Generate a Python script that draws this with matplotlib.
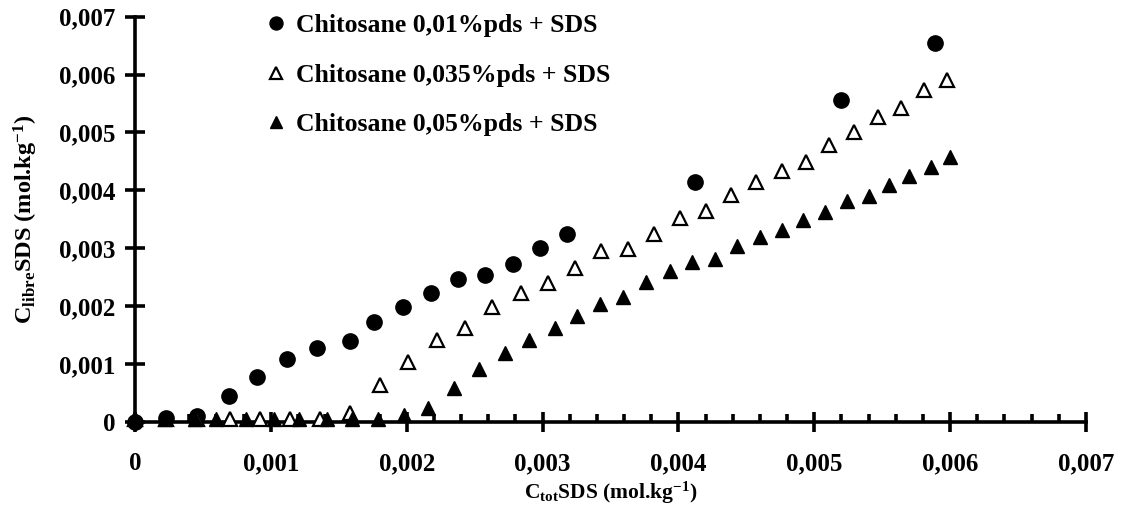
import matplotlib
matplotlib.use("Agg")
import matplotlib.pyplot as plt
from matplotlib.ticker import MultipleLocator, FuncFormatter

plt.rcParams['font.family'] = ['Liberation Serif', 'DejaVu Serif']
plt.rcParams['font.weight'] = 'bold'
plt.rcParams['mathtext.fontset'] = 'custom'
plt.rcParams['mathtext.rm'] = 'Liberation Serif:bold'
plt.rcParams['mathtext.bf'] = 'Liberation Serif:bold'
plt.rcParams['mathtext.it'] = 'Liberation Serif:bold'

# Chitosane 0,01%pds + SDS (filled circles)
c1_x = [0, 0.00023, 0.00046, 0.00069, 0.00090, 0.00112, 0.00134, 0.00158, 0.00176, 0.00197,
        0.00218, 0.00238, 0.00258, 0.00278, 0.00298, 0.00318, 0.00412, 0.00520, 0.00589]
c1_y = [0, 0.00006, 0.00009, 0.00044, 0.00078, 0.00108, 0.00127, 0.00139, 0.00172, 0.00199,
        0.00222, 0.00246, 0.00253, 0.00272, 0.00300, 0.00325, 0.00415, 0.00556, 0.00655]

# Chitosane 0,035%pds + SDS (open triangles)
c2_x = [0, 0.00023, 0.00046, 0.00070, 0.00092, 0.00114, 0.00136, 0.00158, 0.00180, 0.00201,
        0.00222, 0.00243, 0.00263, 0.00284, 0.00304, 0.00324, 0.00343, 0.00363, 0.00382, 0.00401,
        0.00420, 0.00439, 0.00457, 0.00476, 0.00494, 0.00511, 0.00529, 0.00547, 0.00564, 0.00581,
        0.00598]
c2_y = [0.00005, 0.00005, 0.00005, 0.00005, 0.00005, 0.00005, 0.00005, 0.00015, 0.00063, 0.00104,
        0.00142, 0.00162, 0.00198, 0.00222, 0.00239, 0.00265, 0.00295, 0.00299, 0.00325, 0.00352,
        0.00365, 0.00392, 0.00415, 0.00433, 0.00448, 0.00478, 0.00500, 0.00527, 0.00543, 0.00573,
        0.00591]

# Chitosane 0,05%pds + SDS (filled triangles)
c3_x = [0, 0.00022, 0.00044, 0.00060, 0.00082, 0.00102, 0.00121, 0.00141, 0.00160, 0.00179,
        0.00198, 0.00216, 0.00235, 0.00253, 0.00272, 0.00290, 0.00309, 0.00325, 0.00342, 0.00359,
        0.00376, 0.00394, 0.00410, 0.00427, 0.00443, 0.00460, 0.00476, 0.00492, 0.00508, 0.00524,
        0.00540, 0.00555, 0.00570, 0.00586, 0.00600]
c3_y = [0.00004, 0.00004, 0.00004, 0.00004, 0.00004, 0.00004, 0.00004, 0.00004, 0.00004, 0.00004,
        0.00012, 0.00023, 0.00058, 0.00091, 0.00118, 0.00141, 0.00162, 0.00183, 0.00204, 0.00216,
        0.00242, 0.00260, 0.00276, 0.00282, 0.00303, 0.00320, 0.00331, 0.00348, 0.00363, 0.00382,
        0.00390, 0.00409, 0.00424, 0.00440, 0.00457]

labels = ["Chitosane 0,01%pds + SDS", "Chitosane 0,035%pds + SDS", "Chitosane 0,05%pds + SDS"]

fig = plt.figure(figsize=(11.22, 5.12), dpi=100)
ax = fig.add_axes([0.1203, 0.1764, 0.8476, 0.791])

kw = dict(linestyle='none', clip_on=False, zorder=5)
ax.plot(c1_x, c1_y, marker='o', ms=11, mfc='black', mec='black', label=labels[0], **kw)
ax.plot(c2_x, c2_y, marker='^', ms=10.5, mfc='white', mec='black', mew=1.6, label=labels[1], **kw)
ax.plot(c3_x, c3_y, marker='^', ms=10.5, mfc='black', mec='black', label=labels[2], **kw)

ax.set_xlim(0, 0.007)
ax.set_ylim(0, 0.007)

for s in ['top', 'right']:
    ax.spines[s].set_visible(False)
for s in ['left', 'bottom']:
    ax.spines[s].set_linewidth(2.6)

ax.xaxis.set_major_locator(MultipleLocator(0.001))
ax.xaxis.set_minor_locator(MultipleLocator(0.0002))
ax.yaxis.set_major_locator(MultipleLocator(0.001))

def fmt(v, pos):
    if abs(v) < 1e-12:
        return "0"
    return ("%.3f" % v).replace('.', ',')

ax.xaxis.set_major_formatter(FuncFormatter(fmt))
ax.yaxis.set_major_formatter(FuncFormatter(fmt))

ax.tick_params(axis='both', which='major', direction='inout', length=14, width=2.6,
               labelsize=18, pad=3)
ax.tick_params(axis='x', which='major', pad=15)
ax.tick_params(axis='x', which='minor', direction='in', length=6, width=2.6)
ax.tick_params(axis='y', which='major', pad=7)
for lab in ax.get_xticklabels() + ax.get_yticklabels():
    lab.set_fontweight('bold')

ax.set_xlabel(r"C$_{\mathrm{tot}}$SDS (mol.kg$^{\mathrm{-1}}$)", fontsize=15.5, fontweight='bold', labelpad=3)
ax.set_ylabel(r"C$_{\mathrm{libre}}$SDS (mol.kg$^{\mathrm{-1}}$)", fontsize=17.5, fontweight='bold', labelpad=14)

leg = ax.legend(loc='upper left', bbox_to_anchor=(0.127, 1.031), frameon=False,
                prop={'family': 'Liberation Serif', 'weight': 'bold', 'size': 18.5},
                markerscale=0.85, handlelength=0.8, handletextpad=0.35, labelspacing=1.03,
                borderaxespad=0)

fig.savefig("out.png", dpi=100)
